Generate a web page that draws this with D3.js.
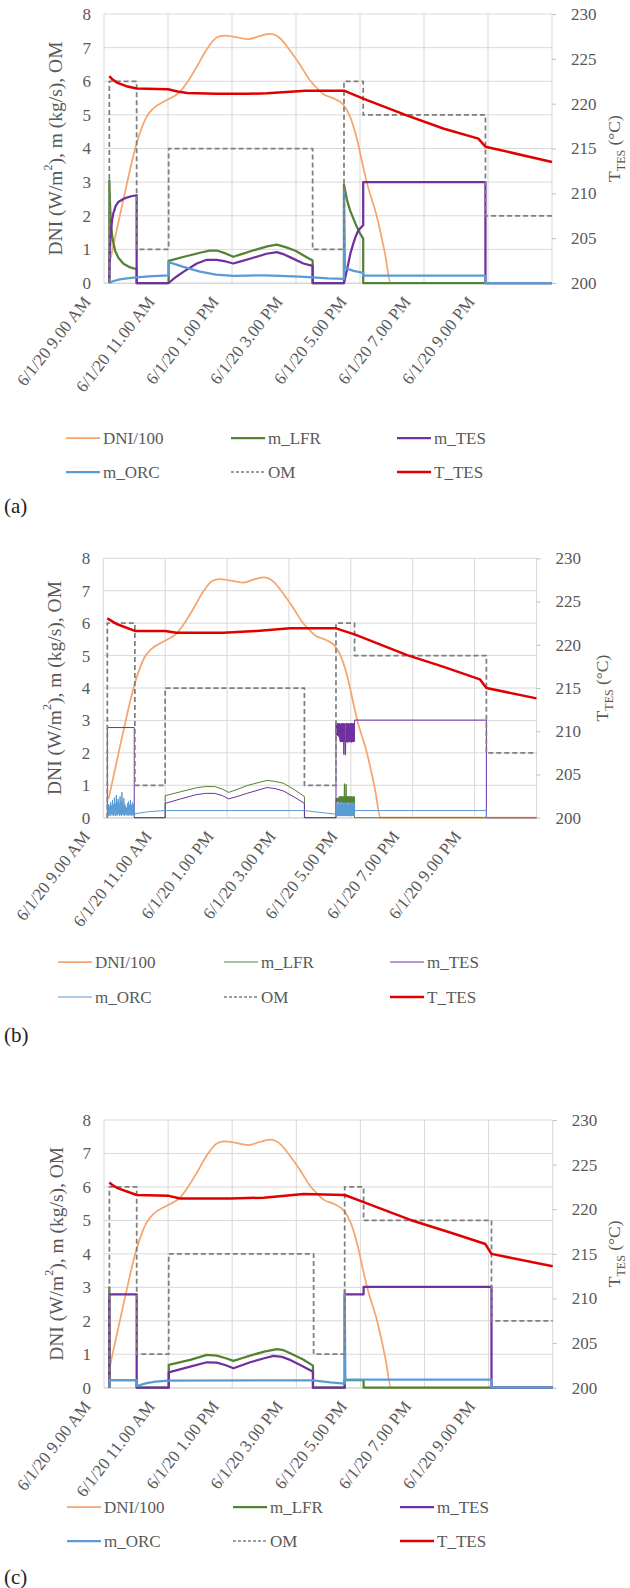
<!DOCTYPE html>
<html>
<head>
<meta charset="utf-8">
<script src="https://cdn.jsdelivr.net/npm/d3@7"></script>
<style>
  body { margin: 0; background: #fff; }
  svg text { font-family: "Liberation Serif", "Times New Roman", Tinos, "DejaVu Serif", serif; }
</style>
</head>
<body>
<svg id="fig" width="630" height="1588"></svg>
<script>
// ---------- axes ----------
const hourDomain = [9, 23];
const hourTicks = [9, 11, 13, 15, 17, 19, 21];
const hourTickLabels = ["6/1/20 9.00 AM", "6/1/20 11.00 AM", "6/1/20 1.00 PM", "6/1/20 3.00 PM",
                        "6/1/20 5.00 PM", "6/1/20 7.00 PM", "6/1/20 9.00 PM"];
const hourGrid = [9, 11, 13, 15, 17, 19, 21, 23];
const leftTicks = [0, 1, 2, 3, 4, 5, 6, 7, 8];
const rightTicks = [200, 205, 210, 215, 220, 225, 230];

// ---------- series legend ----------
const seriesNames = ["DNI/100", "m_LFR", "m_TES", "m_ORC", "OM", "T_TES"];
const seriesColors = ["#F5A56E", "#548235", "#7030A0", "#5B9BD5", "#7F7F7F", "#E00000"];

// ---------- direct normal irradiance / 100 (same day for all runs): [hour, value] ----------
const dniHundredths = [[9.17,0.58],[9.6,2.46],[10.02,4.15],[10.33,4.94],[10.54,5.19],[10.96,5.44],[11.38,5.69],
  [11.58,5.94],[11.9,6.43],[12.2,6.93],[12.52,7.3],[12.75,7.36],[13.04,7.33],[13.5,7.25],[13.88,7.35],
  [14.19,7.41],[14.5,7.28],[14.8,6.93],[15.12,6.5],[15.44,6.02],[15.6,5.85],[15.85,5.62],[16.2,5.48],
  [16.48,5.3],[16.69,4.95],[16.9,4.3],[17.1,3.45],[17.21,3.0],[17.52,2.0],[17.78,0.88],[17.96,0],[23,0]];

// ---------- run (a) ----------
const aLFR = [[9.167,0],[9.167,3.05],[9.19,2.3],[9.22,1.7],[9.27,1.3],[9.35,0.95],[9.45,0.75],[9.6,0.58],
  [9.8,0.47],[10.02,0.41],[10.02,0],[11.02,0],[11.02,0.66],[11.5,0.78],[12.0,0.9],[12.3,0.96],[12.55,0.96],
  [12.8,0.88],[13.04,0.78],[13.3,0.86],[13.7,0.98],[14.1,1.09],[14.4,1.14],[14.7,1.06],[15.0,0.95],
  [15.25,0.81],[15.52,0.67],[15.52,0],[16.5,0],[16.5,2.92],[16.6,2.45],[16.69,2.16],[16.8,1.9],[16.9,1.67],
  [17.0,1.48],[17.1,1.32],[17.1,0],[23,0]];
const aTES = [[9.167,0],[9.18,0.9],[9.21,1.47],[9.25,1.85],[9.29,2.07],[9.37,2.3],[9.45,2.41],[9.6,2.5],
  [9.71,2.54],[9.85,2.58],[10.02,2.61],[10.02,0],[11.02,0],[11.25,0.18],[11.48,0.33],[11.9,0.58],[12.21,0.69],
  [12.52,0.69],[12.8,0.64],[13.04,0.58],[13.3,0.65],[13.56,0.72],[14.08,0.87],[14.4,0.92],[14.6,0.86],
  [14.81,0.77],[15.23,0.58],[15.52,0.51],[15.52,0],[16.5,0],[16.56,0.25],[16.635,0.58],[16.7,0.88],
  [16.79,1.17],[16.87,1.4],[16.95,1.57],[17.1,1.72],[17.1,3.0],[20.92,3.0],[20.92,0],[23,0]];
const aORC = [[9.167,0],[9.3,0.06],[9.5,0.11],[9.71,0.14],[10.02,0.17],[10.4,0.2],[11.02,0.23],[11.02,0.62],
  [11.48,0.48],[12.0,0.34],[12.5,0.25],[13.04,0.21],[13.5,0.22],[14.0,0.23],[14.5,0.21],[15.1,0.19],
  [15.52,0.17],[16.0,0.14],[16.5,0.12],[16.5,2.72],[16.53,0.45],[16.8,0.36],[17.1,0.3],[17.1,0.22],
  [20.92,0.22],[20.92,0],[23,0]];
const aOM = [[9.167,0],[9.167,6],[10.02,6],[10.02,1],[11.02,1],[11.02,4],[15.52,4],[15.52,1],[16.5,1],
  [16.5,6],[17.1,6],[17.1,5],[20.92,5],[20.92,2],[23,2]];
const aTTES = [[9.167,223.08],[9.25,222.75],[9.4,222.35],[9.7,221.95],[10.02,221.7],[11.0,221.6],[11.3,221.35],
  [11.6,221.2],[12.5,221.1],[13.5,221.1],[14.1,221.15],[14.7,221.3],[15.3,221.45],[16.5,221.45],[17.1,220.56],
  [18.46,218.7],[19.6,217.23],[20.7,216.1],[20.92,215.2],[23,213.5]];

// ---------- run (b): fast-switching stretches sampled every step ----------
const bOrcMorningBurst = [0.08,0.3,0.06,0.42,0.1,0.35,0.05,0.48,0.12,0.38,0.07,0.55,0.09,0.4,0.06,0.62,
  0.11,0.45,0.05,0.7,0.1,0.5,0.07,0.58,0.12,0.44,0.06,0.66,0.09,0.52,0.05,0.78,0.1,0.48,0.08,0.6,0.06,
  0.42,0.11,0.36,0.07,0.3,0.09,0.45,0.06,0.5,0.1,0.4,0.07,0.55,0.08,0.38,0.06,0.47,0.1,0.42,0.07,0.35];
const bTesEveningBurst = [2.9,2.55,2.88,2.6,2.91,2.52,2.9,2.58,2.89,2.5,2.92,2.45,2.9,2.36,2.88,2.33,
  2.9,2.34,2.91,2.35,2.89,2.34,2.92,2.33,2.9,1.95,2.91,2.34,2.89,2.33,1.93,2.35,2.92,2.33,2.9,2.34,
  2.91,2.32,2.9,2.34,2.92,2.33,2.9,2.35,2.89,2.33,2.91,2.34,2.9,2.32,2.92,2.35,2.9,2.33,2.91,2.34,2.9,2.35];
const bLfrEveningBurst = [0.5,0.6,0.48,0.58,0.5,0.61,0.47,0.6,0.5,0.64,0.46,0.66,0.48,0.65,0.45,0.66,
  0.47,0.64,0.46,0.65,0.48,0.66,0.45,0.64,0.47,1.05,0.46,0.65,0.48,0.66,1.03,0.45,0.66,0.47,0.65,0.46,
  0.66,0.48,0.65,0.45,0.66,0.47,0.64,0.46,0.65,0.48,0.66,0.45,0.64,0.47,0.65,0.46,0.66,0.48,0.65,0.46];
const bOrcEveningBurst = [0.05,0.4,0.06,0.44,0.05,0.38,0.07,0.46,0.05,0.42,0.06,0.48,0.05,0.4,0.07,0.5,
  0.05,0.43,0.06,0.47,0.05,0.41,0.07,0.45,0.05,0.44,0.06,0.49,0.05,0.42,0.06,0.46,0.05,0.4,0.07,0.44,
  0.05,0.38,0.06,0.45,0.05,0.43,0.07,0.47,0.05,0.41,0.06,0.44,0.05,0.46,0.06,0.4,0.05,0.43];

// spreads a burst of readings evenly between two times
function burst(t0, t1, values) {
  return values.map((v, i) => [t0 + (t1 - t0) * i / (values.length - 1), v]);
}

const bLFR = [[10.0,0],[11.0,0],[11.0,0.68],[11.5,0.8],[12.0,0.92],[12.3,0.96],[12.6,0.96],[12.85,0.88],
  [13.05,0.78],[13.35,0.88],[13.64,0.99],[14.0,1.08],[14.29,1.15],[14.55,1.12],[14.83,1.06],[15.2,0.85],
  [15.5,0.65],[15.5,0],[16.52,0], ...burst(16.52, 17.12, bLfrEveningBurst), [17.12,0],[23,0]];
const bTES = [[9.13,0],[9.13,2.78],[10.0,2.78],[10.0,0],[11.0,0],[11.0,0.44],[11.5,0.58],[12.0,0.71],
  [12.3,0.75],[12.6,0.75],[12.85,0.68],[13.05,0.58],[13.35,0.66],[13.64,0.75],[14.0,0.85],[14.29,0.93],
  [14.55,0.9],[14.83,0.82],[15.2,0.62],[15.5,0.44],[15.5,0],[16.52,0], ...burst(16.52, 17.1, bTesEveningBurst),
  [17.12,2.35],[17.12,3.01],[21.38,3.01],[21.38,0],[23,0]];
const bORC = [...burst(9.13, 10.0, bOrcMorningBurst), [10.0,0.12],[10.5,0.19],[11.0,0.22],[15.5,0.22],
  [16.12,0.15],[16.52,0.11], ...burst(16.52, 17.12, bOrcEveningBurst), [17.12,0.22],[21.38,0.22],[21.38,0],[23,0]];
const bOM = [[9.13,0],[9.13,6],[10.02,6],[10.02,1],[11.0,1],[11.0,4],[15.5,4],[15.5,1],[16.52,1],[16.52,6],
  [17.12,6],[17.12,5],[21.38,5],[21.38,2],[23,2]];
const bTTES = [[9.13,223.06],[9.25,222.8],[9.43,222.4],[10.02,221.6],[11.0,221.6],[11.37,221.4],[12.88,221.4],
  [13.96,221.6],[15.04,221.9],[16.52,221.9],[17.12,221.2],[18.82,218.8],[20.0,217.45],[21.17,216.0],
  [21.38,215.0],[23,213.8]];

// ---------- run (c) ----------
const cLFR = [[9.167,0],[9.167,3.0],[9.18,0.23],[10.02,0.23],[10.02,0],[11.02,0],[11.02,0.68],[11.69,0.83],
  [12.21,0.98],[12.52,0.96],[12.8,0.88],[13.04,0.8],[13.3,0.88],[13.56,0.96],[14.0,1.08],[14.4,1.15],
  [14.6,1.12],[14.81,1.03],[15.2,0.85],[15.52,0.66],[15.52,0],[16.51,0],[16.51,0.23],[17.1,0.23],[17.1,0],[23,0]];
const cTES = [[9.167,0],[9.167,2.79],[10.02,2.79],[10.02,0],[11.02,0],[11.02,0.46],[11.69,0.63],[12.21,0.76],
  [12.52,0.75],[12.8,0.67],[13.04,0.58],[13.3,0.67],[13.56,0.76],[14.0,0.88],[14.29,0.95],[14.55,0.92],
  [14.81,0.83],[15.2,0.64],[15.52,0.48],[15.52,0],[16.51,0],[16.51,2.79],[17.1,2.79],[17.1,3.01],
  [21.09,3.01],[21.09,0],[23,0]];
const cORC = [[9.167,0],[9.167,0.23],[10.02,0.23],[10.02,0.05],[10.3,0.13],[10.6,0.18],[11.02,0.21],
  [15.52,0.22],[16.06,0.16],[16.51,0.12],[16.51,2.92],[16.53,0.24],[21.09,0.24],[21.09,0],[23,0]];
const cOM = [[9.167,0],[9.167,6],[10.02,6],[10.02,1],[11.02,1],[11.02,4],[15.54,4],[15.54,1],[16.51,1],
  [16.51,6],[17.1,6],[17.1,5],[21.09,5],[21.09,2],[23,2]];
const cTTES = [[9.167,223.0],[9.25,222.75],[9.4,222.4],[10.02,221.6],[11.02,221.5],[11.375,221.2],[12.94,221.2],
  [13.98,221.3],[15.23,221.7],[16.51,221.6],[17.1,220.8],[18.56,218.8],[19.8,217.4],[20.9,216.1],
  [21.09,215.0],[23,213.6]];

// ---------- layout of the three stacked charts ----------
const panels = [
  { tag: "(a)", l: 104, r: 552, t: 14, b: 283, mWidth: 2.25,
    lfr: aLFR, tes: aTES, orc: aORC, om: aOM, temp: aTTES,
    legendRows: [438, 472], legendCols: [66, 231, 397], tagY: 506, leftTitleX: 55, rightTitleX: 614 },
  { tag: "(b)", l: 103.3, r: 536.5, t: 558.3, b: 817.7, mWidth: 1.0,
    lfr: bLFR, tes: bTES, orc: bORC, om: bOM, temp: bTTES,
    legendRows: [962, 997], legendCols: [58, 224, 390], tagY: 1035, leftTitleX: 54, rightTitleX: 602 },
  { tag: "(c)", l: 104, r: 552.7, t: 1120, b: 1387.7, mWidth: 2.25,
    lfr: cLFR, tes: cTES, orc: cORC, om: cOM, temp: cTTES,
    legendRows: [1507, 1541], legendCols: [67, 233, 400], tagY: 1577, leftTitleX: 56, rightTitleX: 614 }
];

const svg = d3.select("#fig");
const textGrey = "#595959";

function drawPanel(p) {
  const g = svg.append("g");
  const x = d3.scaleLinear().domain(hourDomain).range([p.l, p.r]);
  const yL = d3.scaleLinear().domain([0, 8]).range([p.b, p.t]);
  const yR = d3.scaleLinear().domain([200, 230]).range([p.b, p.t]);

  // grid
  g.append("g").selectAll("line").data(leftTicks).join("line")
    .attr("x1", p.l).attr("x2", p.r).attr("y1", d => yL(d)).attr("y2", d => yL(d))
    .attr("stroke", "#D9D9D9").attr("stroke-width", 1);
  g.append("g").selectAll("line").data(hourGrid).join("line")
    .attr("x1", d => x(d)).attr("x2", d => x(d)).attr("y1", p.t).attr("y2", p.b)
    .attr("stroke", "#D9D9D9").attr("stroke-width", 1);

  // left axis
  const axL = g.append("g").attr("transform", `translate(${p.l},0)`)
    .call(d3.axisLeft(yL).tickValues(leftTicks).tickSize(0).tickPadding(13));
  axL.select(".domain").remove();
  axL.selectAll("text").attr("font-size", 17).attr("fill", textGrey);

  // right axis (storage temperature)
  const axR = g.append("g").attr("transform", `translate(${p.r},0)`)
    .call(d3.axisRight(yR).tickValues(rightTicks).tickSize(4).tickPadding(15));
  axR.select(".domain").remove();
  axR.selectAll("line").attr("stroke", "#BFBFBF");
  axR.selectAll("text").attr("font-size", 17).attr("fill", textGrey);

  // bottom axis with slanted date labels
  const axB = g.append("g").attr("transform", `translate(0,${p.b})`)
    .call(d3.axisBottom(x).tickValues(hourTicks).tickFormat((d, i) => hourTickLabels[i]).tickSize(0));
  axB.select(".domain").attr("stroke", "#D9D9D9");
  axB.selectAll("text")
    .attr("font-size", 17).attr("fill", textGrey)
    .attr("text-anchor", "end").attr("x", 0).attr("y", 0).attr("dy", null)
    .attr("transform", "translate(-13,19) rotate(-52)");

  // axis titles
  const lt = g.append("text")
    .attr("transform", `translate(${p.leftTitleX},${(p.t + p.b) / 2}) rotate(-90)`)
    .attr("text-anchor", "middle").attr("dominant-baseline", "central")
    .attr("font-size", 19.5).attr("fill", textGrey);
  lt.append("tspan").text("DNI (W/m");
  lt.append("tspan").attr("baseline-shift", "super").attr("font-size", 12).text("2");
  lt.append("tspan").text("), m (kg/s), OM");

  const rt = g.append("text")
    .attr("transform", `translate(${p.rightTitleX},${(p.t + p.b) / 2}) rotate(-90)`)
    .attr("text-anchor", "middle").attr("dominant-baseline", "central")
    .attr("font-size", 17.5).attr("fill", textGrey);
  rt.append("tspan").text("T");
  rt.append("tspan").attr("baseline-shift", "sub").attr("font-size", 12).text("TES");
  rt.append("tspan").text(" (°C)");

  // series
  const lineL = d3.line().x(d => x(d[0])).y(d => yL(d[1]));
  const smoothL = d3.line().x(d => x(d[0])).y(d => yL(d[1])).curve(d3.curveMonotoneX);
  const lineR = d3.line().x(d => x(d[0])).y(d => yR(d[1]));
  const lines = g.append("g").attr("fill", "none").attr("stroke-linejoin", "round");

  lines.append("path").attr("d", smoothL(dniHundredths))
    .attr("stroke", seriesColors[0]).attr("stroke-width", 1.75);
  lines.append("path").attr("d", lineL(p.lfr))
    .attr("stroke", seriesColors[1]).attr("stroke-width", p.mWidth);
  lines.append("path").attr("d", lineL(p.tes))
    .attr("stroke", seriesColors[2]).attr("stroke-width", p.mWidth);
  lines.append("path").attr("d", lineL(p.orc))
    .attr("stroke", seriesColors[3]).attr("stroke-width", p.mWidth);
  lines.append("path").attr("d", lineL(p.om))
    .attr("stroke", seriesColors[4]).attr("stroke-width", 1.75).attr("stroke-dasharray", "5,3");
  lines.append("path").attr("d", lineR(p.temp))
    .attr("stroke", seriesColors[5]).attr("stroke-width", 2.5);

  // legend: two rows of three
  const widths = [1.75, p.mWidth, p.mWidth, p.mWidth, 1.5, 2.5];
  const leg = g.append("g");
  seriesNames.forEach((name, i) => {
    const lx = p.legendCols[i % 3];
    const ly = p.legendRows[Math.floor(i / 3)];
    leg.append("line").attr("x1", lx).attr("x2", lx + 34).attr("y1", ly).attr("y2", ly)
      .attr("stroke", seriesColors[i]).attr("stroke-width", widths[i])
      .attr("stroke-dasharray", name === "OM" ? "3,2" : null);
    leg.append("text").attr("x", lx + 37).attr("y", ly).attr("dominant-baseline", "central")
      .attr("font-size", 17).attr("fill", textGrey).text(name);
  });

  // panel tag
  g.append("text").attr("x", 4).attr("y", p.tagY).attr("dominant-baseline", "central")
    .attr("font-size", 21).attr("fill", "#222").text(p.tag);
}

panels.forEach(drawPanel);
</script>
</body>
</html>
